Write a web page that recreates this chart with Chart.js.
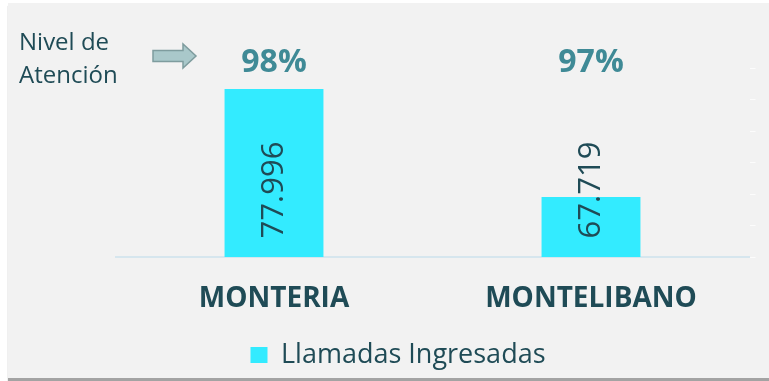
<!DOCTYPE html>
<html>
<head>
<meta charset="utf-8">
<script src="https://cdn.jsdelivr.net/npm/chart.js"></script>
<style>
  body { margin: 0; background: #ffffff; }
  #panel {
    position: absolute; left: 8px; top: 3px; width: 761px; height: 375px;
    background: #f2f2f2; box-shadow: 0 3px 1px #a3a3a3;
  }
  #grafico { position: absolute; left: 0; top: 0; }
</style>
</head>
<body>
<div id="panel"></div>
<canvas id="grafico" width="769" height="381"></canvas>
<script>
/** Datos */
var sedes = ['MONTERIA', 'MONTELIBANO'];
var llamadas = [77996, 67719];
var nivelAtencion = [98, 97];
var ejeMin = 62000;
var ejeMax = 80000;
var ejePaso = 3000;

var azulOscuro = '#1f4b56';
var verdeAzul = '#3f8a96';
var cian = '#33ebff';

/** 77996 -> "77.996" */
function miles(n) {
  return String(n).replace(/\B(?=(\d{3})+(?!\d))/g, '.');
}

/** Textos extra: valores girados, porcentajes, "Nivel de Atención" y la flecha */
var textos = {
  id: 'textos',
  afterDatasetsDraw: function(chart) {
    var ctx = chart.ctx;
    var area = chart.chartArea;
    var barras = chart.getDatasetMeta(0).data;
    ctx.save();

    barras.forEach(function(barra, i) {
      // valor de la barra, girado
      ctx.save();
      ctx.translate(barra.x, area.bottom - 67);
      ctx.rotate(-Math.PI / 2);
      ctx.font = '31px "Open Sans"';
      ctx.fillStyle = azulOscuro;
      ctx.textAlign = 'center';
      ctx.textBaseline = 'middle';
      ctx.fillText(miles(llamadas[i]), 0, 0);
      ctx.restore();

      // nivel de atención
      ctx.font = 'bold 32px "Open Sans"';
      ctx.fillStyle = verdeAzul;
      ctx.textAlign = 'center';
      ctx.textBaseline = 'middle';
      ctx.fillText(nivelAtencion[i] + '%', barra.x, 63);
    });

    ctx.font = '24px "Open Sans"';
    ctx.fillStyle = azulOscuro;
    ctx.textAlign = 'left';
    ctx.textBaseline = 'middle';
    ctx.fillText('Nivel de', 19, 43);
    ctx.fillText('Atención', 19, 76);

    // flecha
    ctx.beginPath();
    ctx.moveTo(153, 50.5);
    ctx.lineTo(183, 50.5);
    ctx.lineTo(183, 44);
    ctx.lineTo(196, 56);
    ctx.lineTo(183, 68);
    ctx.lineTo(183, 61.5);
    ctx.lineTo(153, 61.5);
    ctx.closePath();
    ctx.fillStyle = '#a9c8ca';
    ctx.fill();
    ctx.strokeStyle = '#7e9c9e';
    ctx.lineWidth = 1.5;
    ctx.stroke();

    ctx.restore();
  }
};

Chart.defaults.font.family = '"Open Sans"';
var ctx = document.getElementById('grafico').getContext('2d');
var grafico = new Chart(ctx, {
  type: 'bar',
  data: {
    labels: sedes,
    datasets: [{
      label: 'Llamadas Ingresadas',
      data: llamadas,
      backgroundColor: cian,
      borderWidth: 0,
      barPercentage: 0.312,
      categoryPercentage: 1
    }]
  },
  options: {
    responsive: false,
    animation: false,
    devicePixelRatio: 1,
    layout: { padding: { left: 40.5, right: 13.5, top: 68, bottom: 2.5 } },
    plugins: {
      tooltip: { enabled: false },
      legend: {
        position: 'bottom',
        labels: {
          font: { size: 27 },
          color: azulOscuro,
          boxWidth: 17,
          boxHeight: 16,
          padding: 10
        }
      }
    },
    scales: {
      x: {
        grid: { display: false, drawTicks: false },
        border: { display: true, color: '#d6e6ee', width: 2 },
        ticks: {
          font: { weight: 'bold', size: 28 },
          color: azulOscuro,
          padding: 25
        },
        afterFit: function(scale) { scale.height = 74.5; }
      },
      y: {
        position: 'left',
        min: ejeMin,
        max: ejeMax,
        ticks: { display: false, stepSize: ejePaso },
        grid: { display: false },
        border: { display: false },
        afterFit: function(scale) { scale.width = 75; }
      },
      y2: {
        position: 'right',
        min: ejeMin,
        max: ejeMax,
        ticks: { display: false, stepSize: ejePaso },
        grid: { drawOnChartArea: false, drawTicks: true, tickLength: 6, color: 'rgba(255,255,255,0.75)' },
        border: { display: false }
      }
    }
  },
  plugins: [textos]
});
</script>
</body>
</html>
